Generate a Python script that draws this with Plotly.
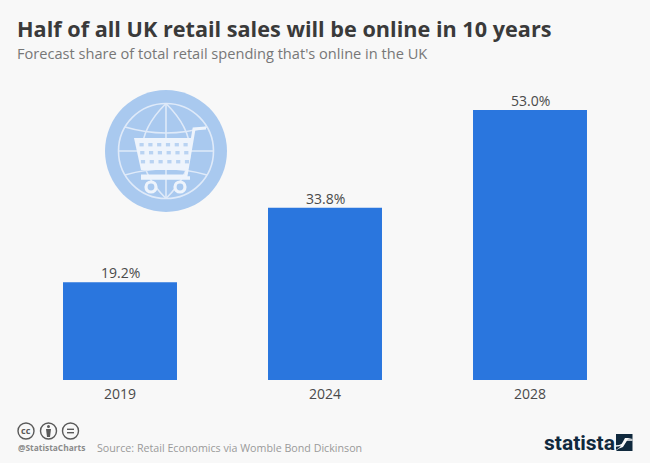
import plotly.graph_objects as go

years = ["2019", "2024", "2028"]
shares = [19.2, 33.8, 53.0]
title = "Half of all UK retail sales will be online in 10 years"
subtitle = "Forecast share of total retail spending that's online in the UK"
source = "Source: Retail Economics via Womble Bond Dickinson"
handle = "@StatistaCharts"

W, H = 650, 463
BG = "#f8f8f8"
BLUE = "#2a76de"
ICON = "#a9c9ef"
LINE = "#dfeaf9"
CART = "#eef4fc"
GREY = "#9a9a9a"


def X(p):
    return p / W


def Y(p):
    return 1 - p / H


def path(points, close=True):
    s = "M " + " L ".join(f"{X(a):.5f},{Y(b):.5f}" for a, b in points)
    return s + (" Z" if close else "")


shapes = []


def circle(cx, cy, r, fill=None, line=None, lw=0):
    shapes.append(dict(type="circle", xref="paper", yref="paper",
                       x0=X(cx - r), x1=X(cx + r), y0=Y(cy + r), y1=Y(cy - r),
                       fillcolor=fill if fill else "rgba(0,0,0,0)",
                       line=dict(color=line if line else "rgba(0,0,0,0)", width=lw), layer="above"))


def poly(points, fill=None, line=None, lw=0, close=True):
    shapes.append(dict(type="path", xref="paper", yref="paper", path=path(points, close),
                       fillcolor=fill if fill else "rgba(0,0,0,0)",
                       line=dict(color=line if line else "rgba(0,0,0,0)", width=lw), layer="above"))


def curve(d, fill=None, line=None, lw=0):
    shapes.append(dict(type="path", xref="paper", yref="paper", path=d,
                       fillcolor=fill if fill else "rgba(0,0,0,0)",
                       line=dict(color=line if line else "rgba(0,0,0,0)", width=lw), layer="above"))


# globe badge
cx, cy = 166, 151
circle(cx, cy, 61, fill=ICON)
circle(cx, cy, 47.5, line=LINE, lw=1.6)
poly([(cx, cy - 47.5), (cx, cy + 47.5)], line=LINE, lw=1.6, close=False)
poly([(cx - 47.5, cy), (cx + 47.5, cy)], line=LINE, lw=1.6, close=False)


def q(a, b, c):
    return (f"M {X(a[0]):.5f},{Y(a[1]):.5f} Q {X(b[0]):.5f},{Y(b[1]):.5f} "
            f"{X(c[0]):.5f},{Y(c[1]):.5f}")


curve(q((cx, cy - 47.5), (cx - 48, cy), (cx, cy + 47.5)), line=LINE, lw=1.6)
curve(q((cx, cy - 47.5), (cx + 48, cy), (cx, cy + 47.5)), line=LINE, lw=1.6)
curve(q((cx - 41, cy - 24), (cx, cy - 12), (cx + 41, cy - 24)), line=LINE, lw=1.6)
curve(q((cx - 41, cy + 24), (cx, cy + 12), (cx + 41, cy + 24)), line=LINE, lw=1.6)

# shopping cart
poly([(134, 138), (192, 138), (187, 170), (141, 170)], fill=CART)
poly([(206, 128), (194, 129), (186, 176), (141, 176)], line=CART, lw=3, close=False)
poly([(141, 178), (190, 178)], line=CART, lw=3.5, close=False)
for wx in (151, 180):
    circle(wx, 187, 5, fill=ICON, line=CART, lw=3.2)
for row, ry in enumerate((143, 151, 160)):
    for col in range(6):
        hx = 139.5 + col * 8.8 + row * 0.7
        poly([(hx, ry), (hx + 4.2, ry), (hx + 4.2, ry + 3.4), (hx, ry + 3.4)], fill="#b9d3f2")

# licence badges
for bx in (26, 48.5, 70.5):
    circle(bx, 431, 8, line="#5a5a5a", lw=1.4)
circle(48.5, 426.5, 1.5, fill="#5a5a5a")
poly([(46, 429), (51, 429), (50, 437), (47, 437)], fill="#5a5a5a")
poly([(67, 429.3), (74, 429.3)], line="#5a5a5a", lw=1.4, close=False)
poly([(67, 432.7), (74, 432.7)], line="#5a5a5a", lw=1.4, close=False)

# statista square
NAVY = "#10293d"
poly([(616, 434), (632.5, 434), (632.5, 438), (625, 438), (620, 447), (616, 450)], fill=NAVY)
poly([(632.5, 451), (616, 451), (618, 449), (623, 447), (628, 439), (632.5, 438)], fill=NAVY)
curve(q((616, 446), (623, 446), (626, 440)) + f" L {X(632.5):.5f},{Y(440):.5f}", line=BG, lw=1.6)


def note(text, x, y, size, color, family="Open Sans", bold=False, anchor="left"):
    return dict(text=f"<b>{text}</b>" if bold else text, x=X(x), y=Y(y), xref="paper", yref="paper",
                xanchor=anchor, yanchor="middle", showarrow=False,
                font=dict(size=size, color=color, family=family))


annotations = [
    note(title, 15, 28, 21.65, "#3a3a3a", bold=True),
    note(subtitle, 15, 52.5, 14.6, "#777777"),
    note(handle, 16, 447.5, 8.4, "#8a8a8a", bold=True),
    note(source, 95, 447.5, 10.7, GREY),
    note("cc", 26, 430.5, 9, "#5a5a5a", bold=True, anchor="center"),
    note("statista", 542, 442.5, 21, NAVY, family="Roboto", bold=True),
]
for i, v in enumerate(shares):
    annotations.append(dict(x=i, y=v, xref="x", yref="y", text=f"{v:.1f}%", showarrow=False,
                            xanchor="center", yanchor="bottom", yshift=-2,
                            font=dict(size=14, color="#4a4a4a", family="Open Sans")))

fig = go.Figure(go.Bar(
    x=years, y=shares, marker=dict(color=BLUE, line=dict(width=0)), hoverinfo="skip",
))
fig.update_layout(
    width=W, height=H, margin=dict(l=0, r=0, t=0, b=0, pad=0), autosize=False,
    paper_bgcolor=BG, plot_bgcolor=BG, showlegend=False, bargap=0.444,
    shapes=shapes, annotations=annotations,
    xaxis=dict(type="category", categoryorder="array", categoryarray=years, range=[-0.5, 2.5],
               domain=[X(17.5), X(632.5)], showgrid=False, zeroline=False, showline=False,
               ticks="outside", ticklen=1, tickcolor="rgba(0,0,0,0)",
               tickfont=dict(size=14, color="#4a4a4a", family="Open Sans")),
    yaxis=dict(domain=[Y(380), Y(90)], range=[0, 290 / 5.094], showgrid=False, zeroline=False,
               showline=False, showticklabels=False, ticks=""),
)
fig.write_html("out.html", post_script="document.body.style.margin='0';",
               config={"displayModeBar": False})
